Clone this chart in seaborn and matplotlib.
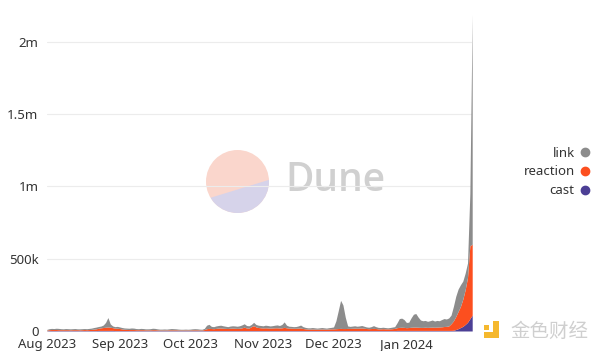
import pandas as pd
import matplotlib
matplotlib.use("Agg")
import matplotlib.pyplot as plt
import matplotlib.dates as mdates
from matplotlib.lines import Line2D
from matplotlib.patches import Circle, Polygon, Rectangle
import seaborn as sns

sns.set_theme(style="white")
plt.rcParams["font.family"] = ["Noto Sans", "DejaVu Sans"]

# daily counts in thousands, 2023-08-01 .. 2024-01-29
start_date = "2023-08-01"
end_date = "2024-01-29"

cast = [
    2, 3, 3, 3, 3, 3, 3, 3, 3, 3, 3, 3, 3, 3, 3, 3, 3, 3, 3, 3, 3, 3, 4, 4, 4, 4, 4, 4, 4, 3, 3,
    3, 3, 3, 3, 3, 3, 3, 3, 3, 3, 3, 3, 3, 3, 3, 3, 3, 3, 3, 3, 3, 3, 3, 3, 3, 3, 3, 3, 3, 3,
    3, 3, 3, 3, 3, 3, 3, 3, 3, 3, 3, 3, 3, 3, 3, 3, 3, 3, 3, 3, 3, 3, 3, 3, 3, 3, 3, 3, 3, 3, 3,
    3, 3, 3, 3, 3, 3, 3, 3, 3, 3, 3, 3, 3, 3, 3, 3, 3, 3, 3, 3, 3, 3, 3, 3, 3, 3, 3, 3, 3, 3,
    3, 3, 3, 3, 3, 3, 3, 3, 3, 3, 3, 3, 3, 3, 3, 3, 3, 3, 3, 3, 3, 3, 3, 3, 3, 3, 3, 4, 4, 4, 4,
    4, 4, 4, 4, 4, 4, 4, 4, 4, 4, 4, 4, 4, 4, 4, 4, 4, 4, 4,
    4, 5, 10, 16, 24, 32, 45, 60, 85, 110,
]
reaction = [
    4, 6, 7, 7, 7, 6, 6, 6, 6, 6, 5, 6, 6, 6, 5, 6, 7, 6, 7, 8, 10, 12, 15, 18, 20, 22, 24, 22, 19, 17, 16,
    14, 11, 9, 8, 7, 7, 7, 6, 6, 6, 6, 5, 5, 5, 6, 6, 5, 4, 4, 4, 4, 5, 5, 5, 5, 4, 4, 4, 4, 4,
    4, 5, 5, 5, 4, 4, 7, 13, 15, 14, 13, 15, 17, 18, 16, 15, 14, 16, 17, 16, 15, 16, 19, 23, 18, 17, 27, 34, 25, 21, 19,
    18, 19, 18, 17, 18, 19, 19, 18, 19, 22, 19, 17, 17, 16, 16, 17, 18, 14, 12, 11, 10, 11, 10, 10, 10, 11, 10, 10, 11, 12,
    12, 13, 14, 15, 14, 14, 15, 15, 16, 17, 16, 17, 18, 16, 14, 13, 14, 15, 14, 12, 12, 13, 12, 12, 12, 13, 15, 19, 21, 22, 21,
    19, 20, 22, 23, 23, 22, 21, 21, 22, 21, 22, 23, 22, 23, 24, 25, 27, 28, 31,
    46, 65, 90, 119, 146, 188, 240, 310, 505, 490,
]
link = [
    5, 7, 8, 7, 9, 9, 7, 6, 8, 7, 7, 7, 8, 6, 7, 7, 7, 7, 8, 9, 11, 12, 12, 12, 17, 33, 65, 23, 12, 10, 13,
    11, 10, 9, 9, 9, 11, 10, 8, 7, 9, 8, 7, 7, 8, 10, 9, 7, 6, 6, 7, 6, 7, 9, 8, 7, 6, 5, 5, 6, 5,
    6, 7, 8, 7, 6, 5, 8, 24, 28, 15, 14, 17, 18, 19, 17, 15, 13, 15, 16, 16, 15, 17, 20, 24, 17, 16, 15, 23, 17, 16, 16,
    15, 18, 17, 15, 16, 18, 20, 17, 23, 38, 18, 13, 12, 11, 12, 15, 20, 13, 10, 8, 9, 10, 9, 7, 9, 10, 9, 7, 9, 10,
    13, 54, 123, 194, 163, 78, 17, 14, 15, 16, 14, 15, 17, 14, 11, 10, 13, 19, 13, 10, 9, 10, 9, 7, 9, 11, 12, 33, 61, 63, 54,
    36, 37, 65, 89, 94, 70, 51, 46, 47, 42, 45, 49, 43, 46, 43, 50, 55, 51, 55,
    60, 100, 140, 155, 150, 125, 115, 100, 360, 1590,
]

series_names = ["link", "reaction", "cast"]
colors = {"link": "#8c8c8c", "reaction": "#fc4f1f", "cast": "#4c3f95"}

y_ticks = [0, 500, 1000, 1500, 2000]
y_labels = ["0", "500k", "1m", "1.5m", "2m"]

df = pd.DataFrame({
    "date": pd.date_range(start_date, end_date, freq="D"),
    "cast": cast,
    "reaction": reaction,
    "link": link,
})

fig = plt.figure(figsize=(6, 3.51), dpi=100)
ax = fig.add_axes([0.078, 0.057, 0.709, 0.906])

ax.stackplot(df["date"], df["cast"], df["reaction"], df["link"],
             colors=[colors["cast"], colors["reaction"], colors["link"]],
             linewidth=0, zorder=3)

ax.set_xlim(df["date"].iloc[0], df["date"].iloc[-1])
ax.set_ylim(0, 2200)
ax.set_yticks(y_ticks)
ax.set_yticklabels(y_labels)
ax.yaxis.grid(True, color="#ececec", linewidth=0.8, zorder=0)
ax.xaxis.grid(False)
ax.xaxis.set_major_locator(mdates.MonthLocator())
ax.xaxis.set_major_formatter(mdates.DateFormatter("%b %Y"))
ax.tick_params(axis="both", length=0, labelsize=9.5, labelcolor="#333333")
ax.tick_params(axis="y", pad=6)
ax.tick_params(axis="x", pad=5)
sns.despine(ax=ax, left=True, bottom=True)
ax.set_facecolor("none")

handles = [Line2D([], [], marker="o", linestyle="", markersize=6,
                  color=colors[n]) for n in series_names]
fig.legend(handles, series_names, loc="center right", bbox_to_anchor=(0.993, 0.51),
           frameon=False, markerfirst=False, fontsize=9.5, labelspacing=0.45,
           handlelength=0.7, handletextpad=0.4, borderpad=0, labelcolor="#333333")

# Dune watermark
wm = fig.add_axes([0, 0, 1, 1], zorder=-1)
wm.set_xlim(0, 600)
wm.set_ylim(351, 0)
wm.axis("off")
circ = Circle((237.5, 181.5), 31.5, facecolor="#fad6cc", edgecolor="none")
wm.add_patch(circ)
low = Polygon([(200, 201), (275, 178), (275, 220), (200, 220)],
              facecolor="#d6d3ea", edgecolor="none")
wm.add_patch(low)
low.set_clip_path(circ)
wm.text(285, 181, "Dune", fontsize=28, color="#d0d0d0", fontweight="semibold",
        va="center", ha="left", family=["Open Sans", "DejaVu Sans"])

# corner logo
logo = fig.add_axes([0, 0, 1, 1], zorder=5)
logo.set_xlim(0, 600)
logo.set_ylim(351, 0)
logo.axis("off")
logo.add_patch(Rectangle((493, 321), 6, 17, facecolor="#f5b82e", edgecolor="none"))
logo.add_patch(Rectangle((484, 332), 15, 6, facecolor="#f5b82e", edgecolor="none"))
logo.add_patch(Rectangle((484, 325), 5, 5, facecolor="#f5b82e", edgecolor="none"))
logo.text(510, 331, "金色财经", fontsize=14, color="#cfcfcf", va="center", ha="left",
          family=["Noto Sans CJK SC", "DejaVu Sans"])

fig.savefig("out.png", dpi=100)
